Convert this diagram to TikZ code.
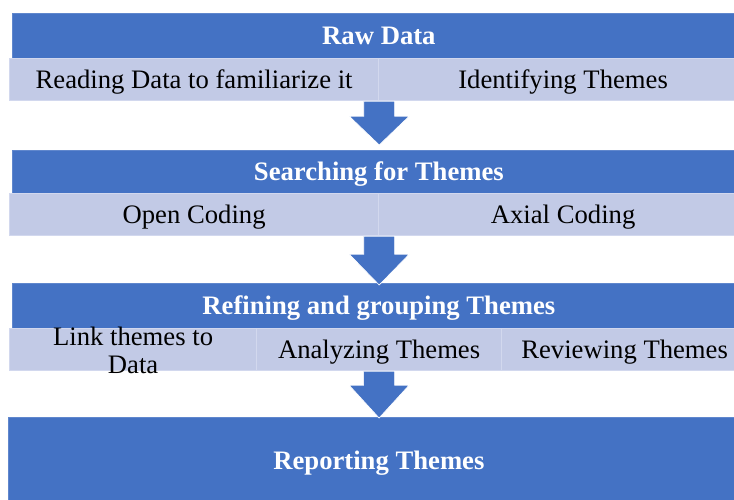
\documentclass[tikz,border=0pt]{standalone}
\usepackage{fontspec}
\setmainfont{Liberation Serif}
\usetikzlibrary{calc}

\definecolor{hblue}{HTML}{4472C4}
\definecolor{cellfill}{HTML}{C2CAE6}
\definecolor{cellline}{HTML}{D2D8EE}

\tikzset{
  head/.style={rectangle, anchor=north west, fill=hblue, draw=hblue!85!white,
    line width=0.6pt, inner sep=0pt, text=white,
    font=\bfseries\fontsize{20}{21}\selectfont, text height=13.5pt, text depth=0pt},
  cell/.style={rectangle, anchor=north west, fill=cellfill, draw=cellline,
    line width=0.9pt, inner sep=0pt, text=black, minimum height=31.5pt,
    font=\fontsize{20}{21}\selectfont, text height=13.5pt, text depth=0pt},
  celltext/.style={align=center, inner sep=0pt, text=black,
    font=\fontsize{20}{21}\selectfont},
  arr/.style={fill=hblue, draw=white, line width=0.5pt}
}

% block arrow: #1 start anchor, #2 target node, #3 head start (px below start), #4 gap above target
\newcommand\blockarr[4]{%
  \filldraw[arr] ($(#1)+(-15.5,0)$) -- ($(#1)+(15.5,0)$) -- ($(#1)+(15.5,#3)$)
    -- ($(#1)+(30,#3)$) -- ($(#1 |- #2.north)+(0,-#4)$) -- ($(#1)+(-30,#3)$)
    -- ($(#1)+(-15.5,#3)$) -- cycle;}

\begin{document}
\begin{tikzpicture}[x=0.75pt, y=-0.75pt]
  \useasboundingbox (0,0) rectangle (734,499);
  \clip (0,0) rectangle (734,499);

  % stage 1
  \node[head, minimum width=549.75pt, minimum height=33.75pt] (h1) at (12,13) {Raw Data};
  \node[cell, minimum width=276.75pt] (s1a) at (9,58) {Reading Data to familiarize it};
  \node[cell, minimum width=276.75pt] (s1b) at (378,58) {Identifying Themes};

  % stage 2
  \node[head, minimum width=549.75pt, minimum height=32.25pt] (h2) at (12,150) {Searching for Themes};
  \node[cell, minimum width=276.75pt] (s2a) at (9,193) {Open Coding};
  \node[cell, minimum width=276.75pt] (s2b) at (378,193) {Axial Coding};

  % stage 3
  \node[head, minimum width=549.75pt, minimum height=33.75pt] (h3) at (12,283) {Refining and grouping Themes};
  \node[cell, minimum width=185.25pt] (s3a) at (9,328) {};
  \node[celltext] (t3a) at ($(s3a.center)+(0,1)$) {Link themes to\\Data};
  \node[cell, minimum width=183.75pt] (s3b) at (256,328) {Analyzing Themes};
  \node[cell, minimum width=184.5pt] (s3c) at (501,328) {Reviewing Themes};

  % stage 4
  \node[head, minimum width=555.75pt, minimum height=64.5pt] (h4) at (8,417) {Reporting Themes};

  % arrows between stages
  \blockarr{s1a.south east}{h2}{15}{5}
  \blockarr{s2a.south east}{h3}{18}{-2}
  \blockarr{s3b.south}{h4}{14}{-1}
\end{tikzpicture}
\end{document}
